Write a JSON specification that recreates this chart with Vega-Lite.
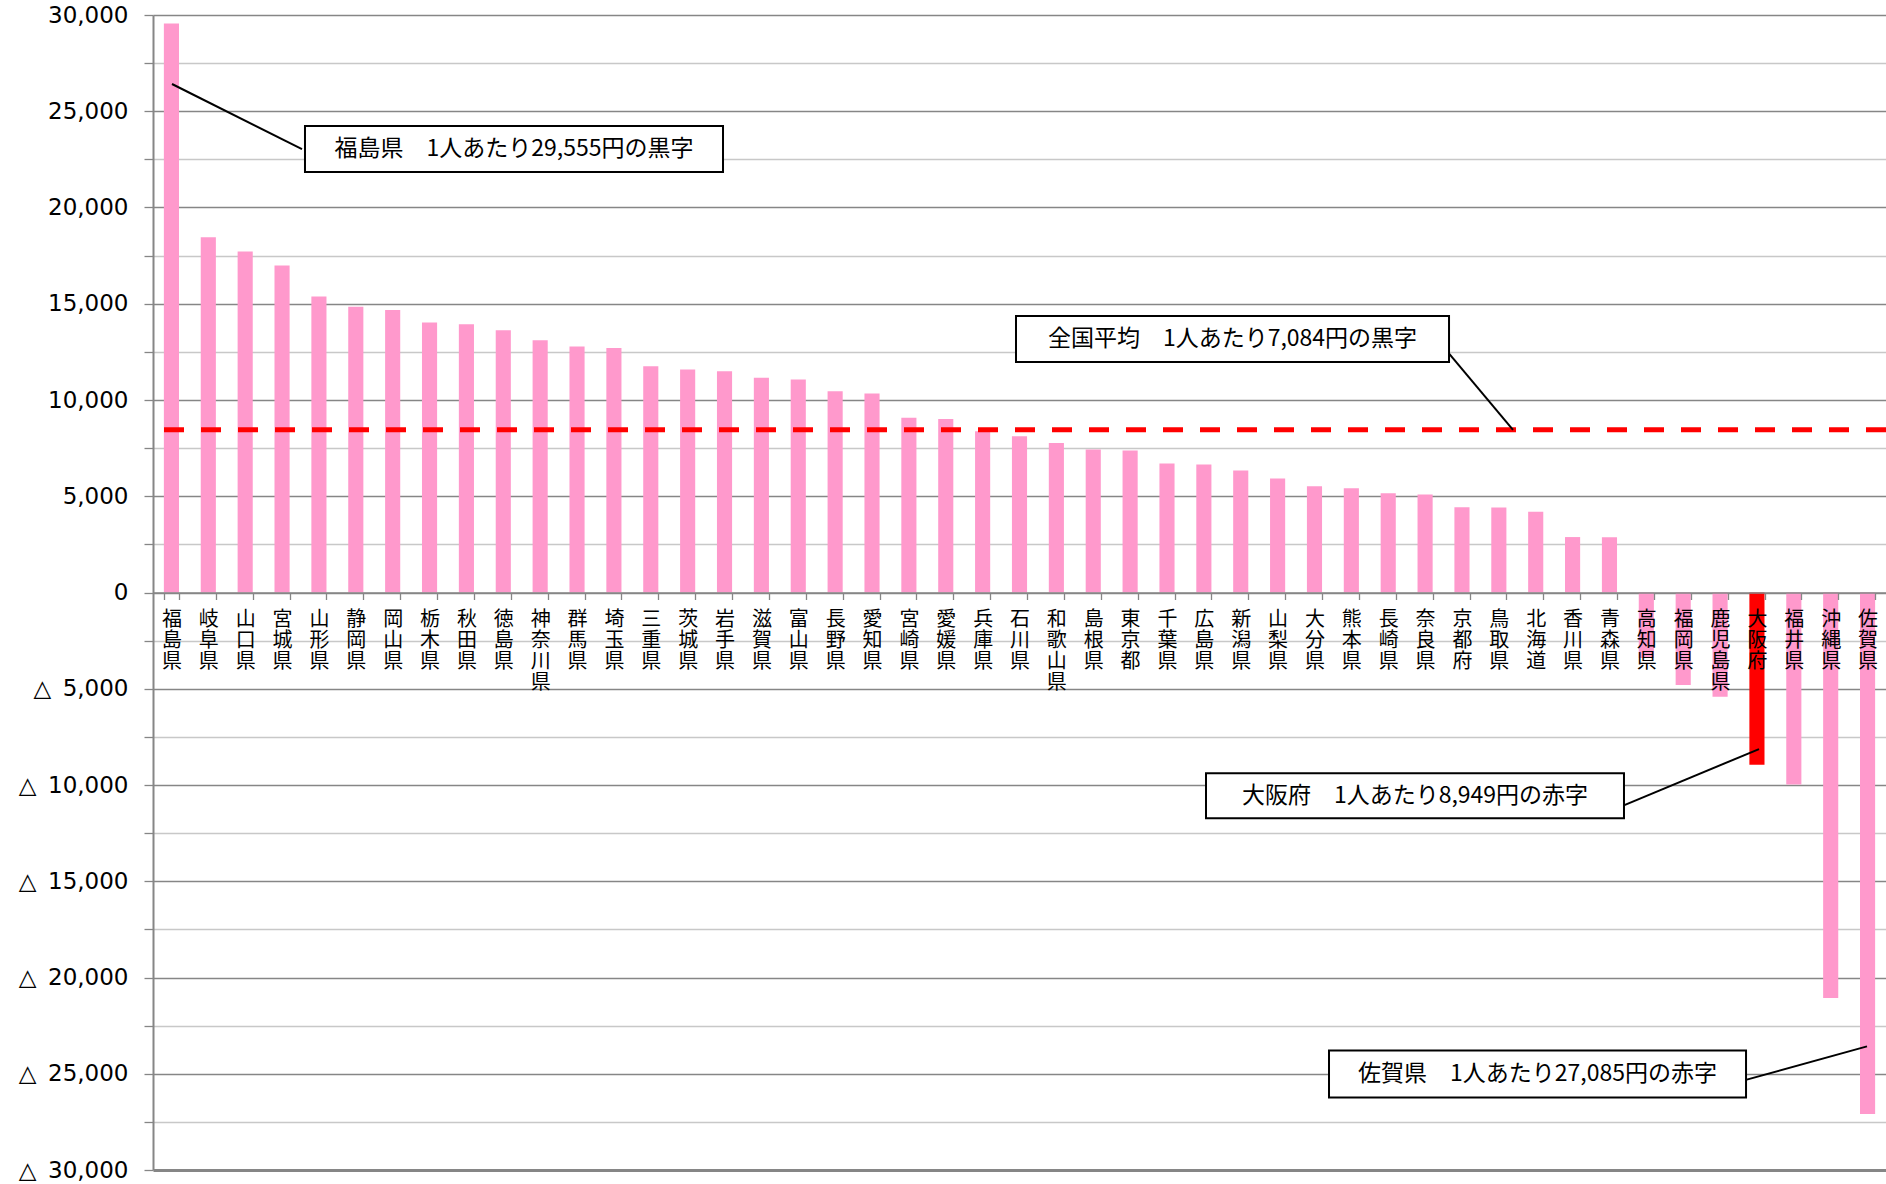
{
  "$schema": "https://vega.github.io/schema/vega-lite/v6.json",
  "width": 1733,
  "height": 1155,
  "autosize": {"type": "none"},
  "padding": {"left": 153, "top": 15, "right": 0, "bottom": 14},
  "background": "#ffffff",
  "config": {"view": {"stroke": null}},
  "datasets": {
    "prefs": [
      {"pref": "福島県", "value": 29555},
      {"pref": "岐阜県", "value": 18450},
      {"pref": "山口県", "value": 17720},
      {"pref": "宮城県", "value": 16990},
      {"pref": "山形県", "value": 15380},
      {"pref": "静岡県", "value": 14840},
      {"pref": "岡山県", "value": 14670},
      {"pref": "栃木県", "value": 14030},
      {"pref": "秋田県", "value": 13940},
      {"pref": "徳島県", "value": 13620},
      {"pref": "神奈川県", "value": 13100},
      {"pref": "群馬県", "value": 12780},
      {"pref": "埼玉県", "value": 12700},
      {"pref": "三重県", "value": 11750},
      {"pref": "茨城県", "value": 11590},
      {"pref": "岩手県", "value": 11490},
      {"pref": "滋賀県", "value": 11150},
      {"pref": "富山県", "value": 11070},
      {"pref": "長野県", "value": 10450},
      {"pref": "愛知県", "value": 10340},
      {"pref": "宮崎県", "value": 9080},
      {"pref": "愛媛県", "value": 9010},
      {"pref": "兵庫県", "value": 8380},
      {"pref": "石川県", "value": 8120},
      {"pref": "和歌山県", "value": 7760},
      {"pref": "島根県", "value": 7430},
      {"pref": "東京都", "value": 7380},
      {"pref": "千葉県", "value": 6700},
      {"pref": "広島県", "value": 6650},
      {"pref": "新潟県", "value": 6340},
      {"pref": "山梨県", "value": 5920},
      {"pref": "大分県", "value": 5520},
      {"pref": "熊本県", "value": 5420},
      {"pref": "長崎県", "value": 5150},
      {"pref": "奈良県", "value": 5090},
      {"pref": "京都府", "value": 4430},
      {"pref": "鳥取県", "value": 4420},
      {"pref": "北海道", "value": 4190},
      {"pref": "香川県", "value": 2880},
      {"pref": "青森県", "value": 2870},
      {"pref": "高知県", "value": -3400},
      {"pref": "福岡県", "value": -4800},
      {"pref": "鹿児島県", "value": -5410},
      {"pref": "大阪府", "value": -8949},
      {"pref": "福井県", "value": -9970},
      {"pref": "沖縄県", "value": -21070},
      {"pref": "佐賀県", "value": -27085}
    ],
    "average": [
      {"label": "全国平均", "value": 8450}
    ],
    "notes": [
      {"note": "福島県\u2002\u20021人あたり29,555円の黒字", "bx1": 4.122, "bx2": 15.459, "by1": 24232, "by2": 21841, "tx": 9.79, "ty": 23036, "lx1": 0.515, "ly1": 26416, "lx2": 4.041, "ly2": 23036},
      {"note": "全国平均\u2002\u20021人あたり7,084円の黒字", "bx1": 23.405, "bx2": 35.149, "by1": 14369, "by2": 11978, "tx": 29.277, "ty": 13163, "lx1": 35.094, "ly1": 12540, "lx2": 36.884, "ly2": 8450},
      {"note": "大阪府\u2002\u20021人あたり8,949円の赤字", "bx1": 28.558, "bx2": 39.894, "by1": -9391, "by2": -11729, "tx": 34.226, "ty": -10560, "lx1": 39.84, "ly1": -11095, "lx2": 43.556, "ly2": -8133},
      {"note": "佐賀県\u2002\u20021人あたり27,085円の赤字", "bx1": 31.894, "bx2": 43.204, "by1": -23786, "by2": -26229, "tx": 37.549, "ty": -25007, "lx1": 43.15, "ly1": -25345, "lx2": 46.485, "ly2": -23578}
    ]
  },
  "layer": [
    {
      "data": {"name": "prefs"},
      "mark": {"type": "bar"},
      "encoding": {
        "x": {
          "field": "pref",
          "type": "nominal",
          "sort": null,
          "scale": {"paddingInner": 0.59, "paddingOuter": 0.295},
          "axis": {
            "orient": "bottom",
            "offset": -577.5,
            "title": null,
            "labelExpr": "split(datum.label, '')",
            "labelFont": "Noto Sans CJK JP",
            "labelFontSize": 20,
            "labelLineHeight": 21,
            "labelAngle": 0,
            "labelBaseline": "top",
            "labelPadding": 10,
            "labelColor": "#000000",
            "tickBand": "extent",
            "tickSize": 7,
            "tickColor": "#868686",
            "tickWidth": 1.3,
            "domainColor": "#868686",
            "domainWidth": 1.5,
            "grid": false,
            "zindex": 1
          }
        },
        "y": {
          "field": "value",
          "type": "quantitative",
          "scale": {"domain": [-30000, 30000], "nice": false},
          "axis": {
            "title": null,
            "values": [-30000, -27500, -25000, -22500, -20000, -17500, -15000, -12500, -10000, -7500, -5000, -2500, 0, 2500, 5000, 7500, 10000, 12500, 15000, 17500, 20000, 22500, 25000, 27500, 30000],
            "labelExpr": "datum.value % 5000 !== 0 ? '' : (datum.value < 0 ? '△\u2002' + format(-datum.value, ',') : format(datum.value, ','))",
            "labelFont": "DejaVu Sans",
            "labelFontSize": 23,
            "labelColor": "#000000",
            "labelOverlap": false,
            "labelPadding": 16,
            "tickSize": 9,
            "tickColor": "#868686",
            "tickWidth": 1.3,
            "domainColor": "#868686",
            "domainWidth": 2,
            "grid": true,
            "gridColor": {"condition": {"test": "datum.value % 5000 === 0", "value": "#868686"}, "value": "#C8C8C8"},
            "gridWidth": {"condition": {"test": "datum.value === -30000", "value": 3}, "value": 1.3}
          }
        },
        "color": {
          "condition": {"test": "datum.pref === '大阪府'", "value": "#FF0000"},
          "value": "#FF99CC"
        }
      }
    },
    {
      "data": {"name": "average"},
      "mark": {"type": "rule", "color": "#FF0000", "strokeWidth": 5, "strokeDash": [20, 17]},
      "encoding": {"y": {"field": "value", "type": "quantitative"}}
    },
    {
      "data": {"name": "notes"},
      "layer": [
        {
          "mark": {"type": "rule", "color": "#000000", "strokeWidth": 2},
          "encoding": {
            "x": {"field": "lx1", "type": "quantitative", "scale": {"domain": [0, 47], "nice": false, "zero": false}, "axis": null},
            "x2": {"field": "lx2"},
            "y": {"field": "ly1", "type": "quantitative"},
            "y2": {"field": "ly2"}
          }
        },
        {
          "mark": {"type": "rect", "fill": "#FFFFFF", "stroke": "#000000", "strokeWidth": 2},
          "encoding": {
            "x": {"field": "bx1", "type": "quantitative", "scale": {"domain": [0, 47], "nice": false, "zero": false}, "axis": null},
            "x2": {"field": "bx2"},
            "y": {"field": "by1", "type": "quantitative"},
            "y2": {"field": "by2"}
          }
        },
        {
          "mark": {"type": "text", "font": "Noto Sans CJK JP", "fontSize": 23, "color": "#000000", "align": "center", "baseline": "middle"},
          "encoding": {
            "x": {"field": "tx", "type": "quantitative", "scale": {"domain": [0, 47], "nice": false, "zero": false}, "axis": null},
            "y": {"field": "ty", "type": "quantitative"},
            "text": {"field": "note"}
          }
        }
      ]
    }
  ],
  "resolve": {"scale": {"x": "independent"}, "axis": {"x": "independent"}}
}
